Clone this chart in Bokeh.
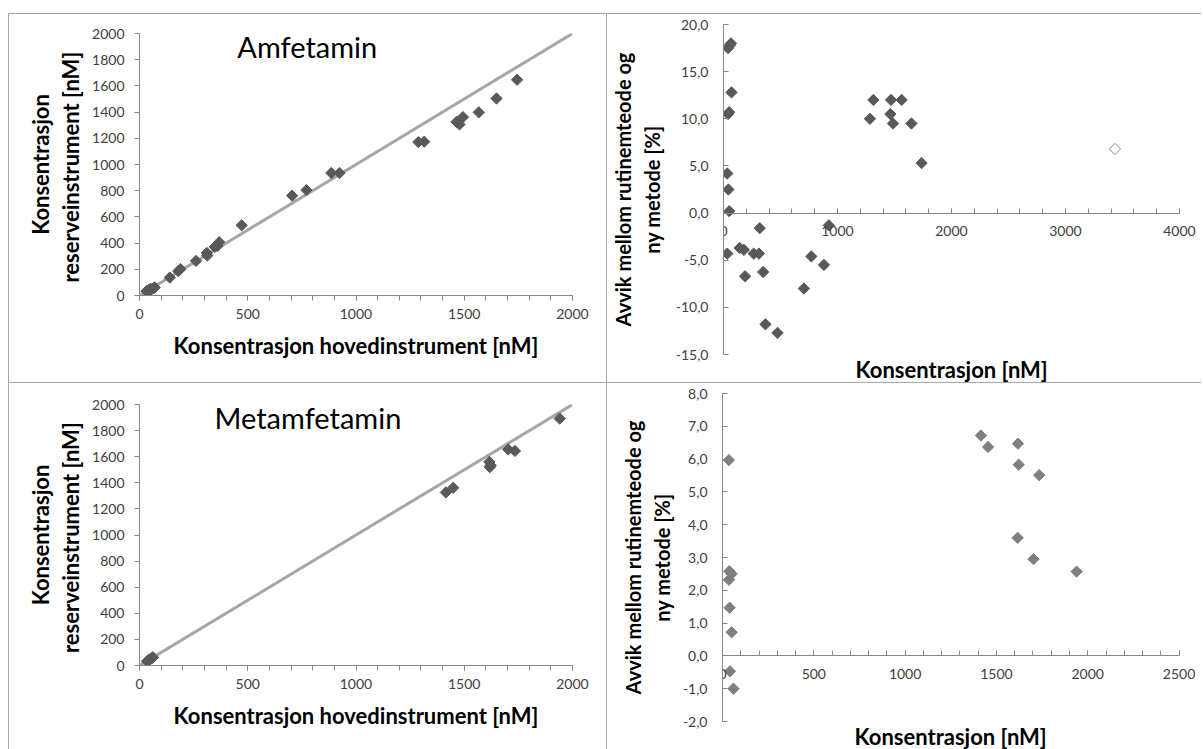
import numpy as np
from bokeh.plotting import figure
from bokeh.models import Range1d, FixedTicker, Label, Spacer, Title
from bokeh.layouts import row, column
from bokeh.embed import file_html
from bokeh.resources import INLINE

# ---------------- data ----------------
# Amfetamin: main instrument vs reserve instrument [nM]
amf_main = [33, 40, 43, 50, 50, 55, 66, 70, 40, 33,
            140, 179, 189, 261, 313, 311, 348, 360, 368, 472,
            705, 771, 886, 924, 1288, 1315, 1464, 1478, 1494, 1567, 1649, 1744]
amf_reserve = [32, 34, 42, 45, 50, 47, 56, 62, 36, 34,
               137, 186, 202, 264, 305, 325, 371, 378, 407, 536,
               762, 805, 935, 935, 1171, 1174, 1325, 1306, 1362, 1398, 1504, 1647]
# Amfetamin: deviation [%] vs concentration [nM]
amf_dev_conc = [40, 55, 66, 70, 40, 50, 33, 43, 50, 33,
                142, 179, 189, 265, 311, 318, 348, 368, 474,
                705, 771, 881, 924, 1285, 1315, 1464, 1470, 1487, 1563, 1649, 1738]
amf_dev = [17.5, 17.8, 18.0, 12.8, 10.5, 10.7, 4.2, 2.5, 0.2, -4.3,
           -3.7, -3.9, -6.7, -4.3, -4.3, -1.6, -6.25, -11.8, -12.7,
           -8.0, -4.6, -5.5, -1.3, 10.0, 12.0, 10.5, 12.0, 9.5, 12.0, 9.5, 5.3]
amf_out_conc = [3434]
amf_out_dev = [6.8]

# Metamfetamin
met_main = [35, 40, 45, 50, 55, 60, 42, 62,
            1415, 1449, 1618, 1622, 1616, 1734, 1703, 1941]
met_reserve = [33, 38, 44, 49, 54, 59, 41, 63,
               1326, 1362, 1520, 1533, 1560, 1644, 1656, 1892]
met_dev_conc = [35, 37, 50, 35, 39, 50, 41, 60,
                1415, 1454, 1618, 1622, 1734, 1616, 1703, 1939]
met_dev = [5.97, 2.58, 2.5, 2.32, 1.47, 0.72, -0.47, -1.0,
           6.72, 6.37, 6.47, 5.83, 5.51, 3.6, 2.95, 2.57]

ident_line = [0, 2000]

left_x_major = [0, 500, 1000, 1500, 2000]
left_x_minor = list(range(0, 2001, 100))
left_y_major = list(range(0, 2001, 200))

tr_x_major = [0, 1000, 2000, 3000, 4000]
tr_x_minor = list(range(0, 4001, 200))
tr_y_major = [-15, -10, -5, 0, 5, 10, 15, 20]

br_x_major = [0, 500, 1000, 1500, 2000, 2500]
br_x_minor = list(range(0, 2501, 100))
br_y_major = [-2, -1, 0, 1, 2, 3, 4, 5, 6, 7, 8]

# ---------------- styling ----------------
FONT = "Lato"
AXIS_COL = "#868686"
TICK_LABEL_COL = "#404040"
BORDER = "1px solid #a6a6a6"
DARK = "#595959"
LIGHT = "#7f7f7f"


def comma_labels(vals):
    return {v: f"{v:.1f}".replace(".", ",") for v in vals}


def base_axes(p):
    p.grid.visible = False
    p.outline_line_color = None
    p.background_fill_color = "white"
    p.border_fill_color = "white"
    for ax in (p.xaxis[0], p.yaxis[0]):
        ax.axis_line_color = AXIS_COL
        ax.major_tick_line_color = AXIS_COL
        ax.minor_tick_line_color = AXIS_COL
        ax.major_label_text_font = FONT
        ax.major_label_text_font_size = "14px"
        ax.major_label_text_color = TICK_LABEL_COL
        ax.axis_label_text_font = FONT
        ax.axis_label_text_font_style = "bold"
        ax.axis_label_text_color = "black"


def left_panel(xs, ys, title, title_x, title_y, height, mtop, mbot, styles):
    p = figure(width=599, height=height,
               x_range=Range1d(0, 2000), y_range=Range1d(0, 2000),
               output_backend="svg", toolbar_location=None,
               min_border_left=130, min_border_right=36,
               min_border_top=mtop, min_border_bottom=mbot,
               styles=styles)
    base_axes(p)
    p.line(ident_line, ident_line, line_color="#a6a6a6", line_width=3)
    p.scatter(xs, ys, marker="square", angle=np.pi / 4, size=8,
              fill_color=DARK, line_color=DARK)
    xa = p.xaxis[0]
    xa.ticker = FixedTicker(ticks=left_x_major, minor_ticks=left_x_minor)
    xa.major_tick_in = 0
    xa.major_tick_out = 5
    xa.minor_tick_in = 0
    xa.minor_tick_out = 5
    xa.major_label_standoff = 8
    xa.axis_label = "Konsentrasjon hovedinstrument [nM]"
    xa.axis_label_text_font_size = "22px"
    xa.axis_label_standoff = 10
    ya = p.yaxis[0]
    ya.ticker = FixedTicker(ticks=left_y_major, minor_ticks=[])
    ya.major_tick_in = 0
    ya.major_tick_out = 5
    ya.major_label_standoff = 10
    ya.axis_label = "Konsentrasjon\nreserveinstrument  [nM]"
    ya.axis_label_text_font_size = "22px"
    ya.axis_label_text_line_height = 1.1
    ya.axis_label_standoff = 5
    p.add_layout(Label(x=title_x, y=title_y, text=title, text_font=FONT,
                       text_font_size="29px", text_color="black",
                       text_align="center", text_baseline="middle"))
    return p


def right_panel(xs, ys, xr, x_pad, yr, xmaj, xmin, ymaj, height, mtop, mbot,
                color, ylabel_standoff, styles):
    # frame of 457 px for the real range, extended a little to the right so
    # that the last tick label is not cut by the frame clip
    frame_w = int(round(457 * (xr[1] + x_pad - xr[0]) / (xr[1] - xr[0])))
    p = figure(width=594, height=height,
               x_range=Range1d(xr[0], xr[1] + x_pad), y_range=Range1d(*yr),
               output_backend="svg", toolbar_location=None,
               min_border_left=115, min_border_right=594 - 115 - frame_w,
               min_border_top=mtop, min_border_bottom=mbot,
               styles=styles)
    base_axes(p)
    p.scatter(xs, ys, marker="square", angle=np.pi / 4, size=8,
              fill_color=color, line_color=color)
    xa = p.xaxis[0]
    xa.fixed_location = 0
    xa.bounds = xr
    xa.ticker = FixedTicker(ticks=xmaj, minor_ticks=xmin)
    xa.major_tick_in = 5
    xa.major_tick_out = 0
    xa.minor_tick_in = 5
    xa.minor_tick_out = 0
    xa.major_label_standoff = 13
    ya = p.yaxis[0]
    ya.ticker = FixedTicker(ticks=ymaj, minor_ticks=[])
    ya.major_tick_in = 5
    ya.major_tick_out = 0
    ya.major_label_standoff = 15
    ya.major_label_overrides = comma_labels(ymaj)
    ya.axis_label = "Avvik mellom rutinemteode og\nny metode [%]"
    ya.axis_label_text_font_size = "20px"
    ya.axis_label_text_line_height = 1.2
    ya.axis_label_standoff = ylabel_standoff
    # x title below the frame
    p.add_layout(Title(text="Konsentrasjon [nM]", align="left",
                       offset=132, standoff=0,
                       vertical_align="middle", text_line_height=1.0,
                       text_font=FONT, text_font_size="22px",
                       text_font_style="bold", text_color="black"),
                 "below")
    return p


tl = left_panel(amf_main, amf_reserve, "Amfetamin", 775, 1898, 369, 19, 88,
                {"border-top": BORDER, "border-left": BORDER, "border-right": BORDER})
tr = right_panel(amf_dev_conc, amf_dev, (0, 4000), 150, (-15, 20),
                 tr_x_major, tr_x_minor, tr_y_major, 369, 10, 27, DARK, 9,
                 {"border-top": BORDER})
tr.scatter(amf_out_conc, amf_out_dev, marker="square", angle=np.pi / 4, size=8,
           fill_color="white", line_color="#8c8c8c")
bl = left_panel(met_main, met_reserve, "Metamfetamin", 778, 1900, 367, 21, 85,
                {"border-top": BORDER, "border-left": BORDER, "border-right": BORDER})
br = right_panel(met_dev_conc, met_dev, (0, 2500), 90, (-2, 8),
                 br_x_major, br_x_minor, br_y_major, 367, 10, 24, LIGHT, 6,
                 {"border-top": BORDER})

layout = column(Spacer(width=1200, height=13),
                row(Spacer(width=8, height=369), column(tl), column(tr)),
                row(Spacer(width=8, height=367), column(bl), column(br)))

open("out.html", "w").write(file_html(layout, INLINE))
